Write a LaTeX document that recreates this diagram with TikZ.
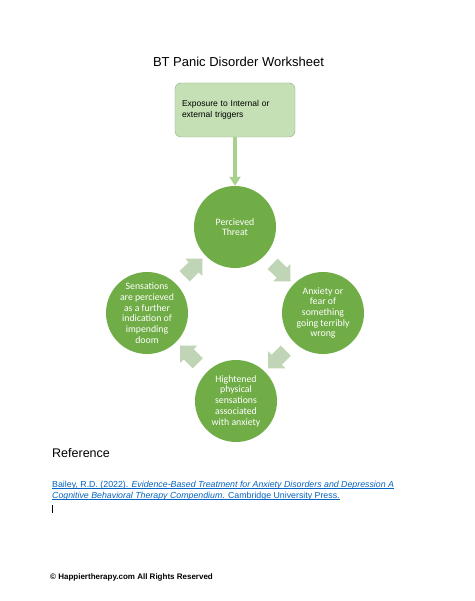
\documentclass[tikz,border=0pt]{standalone}
\usepackage{fontspec}
\setmainfont{Liberation Sans}
\newfontfamily\calibri{Carlito}
\usetikzlibrary{shapes.arrows,arrows.meta}
\definecolor{cyclegreen}{HTML}{70AD47}
\definecolor{turngreen}{HTML}{C0D5B5}
\definecolor{boxfill}{HTML}{C5E0B4}
\definecolor{boxedge}{HTML}{8FAA80}
\definecolor{feedgreen}{HTML}{A9D18E}
\definecolor{linkblue}{HTML}{0563C1}

\begin{document}
\begin{tikzpicture}[x=1pt,y=-1pt,
  stage/.style={circle, fill=cyclegreen, minimum size=82pt, inner sep=0pt,
    align=center, text=white, font=\calibri\fontsize{9.8}{10.7}\selectfont},
  turn/.style={single arrow, fill=turngreen, draw=none, minimum height=25pt,
    inner sep=7pt, single arrow head extend=5pt, sloped, allow upside down},
  trigger/.style={draw=boxedge, fill=boxfill, rounded corners=6pt,
    minimum width=120pt, minimum height=54pt, text width=106pt, align=left,
    font=\fontsize{8.5}{11.5}\selectfont},
  cite/.style={anchor=base west, inner sep=0pt, text=linkblue,
    font=\fontsize{8.8}{10}\selectfont},
  underlink/.style={linkblue, line width=0.5pt}]
\useasboundingbox[fill=white] (0,0) rectangle (474,601);

% Title and trigger box
\node (title) at (238.5,62) {\fontsize{13}{15}\selectfont BT Panic Disorder Worksheet};
\node[trigger] (trigger) at (235,110) {Exposure to Internal or\\external triggers};

% Cycle of stages
\node[stage] (threat) at (235,227) {Percieved\\Threat};
\node[stage] (anxiety) at (323,313) {Anxiety or\\fear of\\something\\going terribly\\wrong};
\node[stage] (physical) at (236,401) {Hightened\\physical\\sensations\\associated\\with anxiety};
\node[stage] (doom) at (147,313) {Sensations\\are percieved\\as a further\\indication of\\impending\\doom};

\draw[feedgreen, line width=3.5pt, -{Triangle[width=11pt,length=9pt]}] (trigger) -- (threat);

% Turning arrows between stages
\path (threat) -- node[turn] (turnA) {} (anxiety);
\path (anxiety) -- node[turn] (turnB) {} (physical);
\path (physical) -- node[turn] (turnC) {} (doom);
\path (doom) -- node[turn] (turnD) {} (threat);

% Reference
\node[anchor=base west, inner sep=0pt] (refhead) at (52,457) {\fontsize{12.5}{14}\selectfont Reference};
\node[cite] (citeA) at (52,487) {Bailey, R.D. (2022). \textit{Evidence-Based Treatment for Anxiety Disorders and Depression A}};
\node[cite] (citeB) at (52,498) {\textit{Cognitive Behavioral Therapy Compendium}. Cambridge University Press.};
\draw[underlink] ([yshift=-1.4pt]citeA.base west) -- ([yshift=-1.4pt]citeA.base east);
\draw[underlink] ([yshift=-1.4pt]citeB.base west) -- ([yshift=-1.4pt]citeB.base east);
\draw[black, line width=0.8pt] (52,505) -- (52,513);

% Footer
\node[anchor=base west, inner sep=0pt] (rights) at (50,579) {\bfseries\fontsize{8}{9}\selectfont © Happiertherapy.com All Rights Reserved};
\end{tikzpicture}
\end{document}
